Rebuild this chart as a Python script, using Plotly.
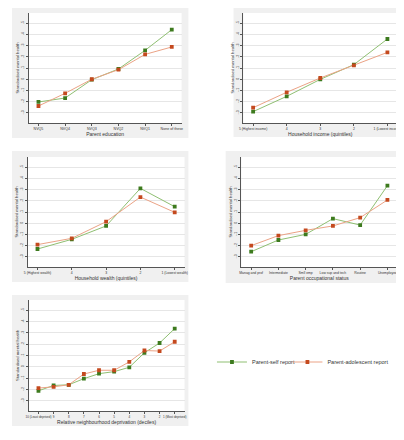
import plotly.graph_objects as go

W, H = 404, 440

edu_cats = ["NVQ5", "NVQ4", "NVQ3", "NVQ2", "NVQ1", "None of these"]
edu_self = [-0.202, -0.167, -0.004, 0.091, 0.257, 0.441]
edu_adol = [-0.238, -0.125, 0.000, 0.085, 0.221, 0.287]

inc_cats = ["5 (Highest income)", "4", "3", "2", "1 (Lowest income)"]
inc_self = [-0.288, -0.152, -0.001, 0.130, 0.358]
inc_adol = [-0.253, -0.116, 0.011, 0.124, 0.239]

wea_cats = ["5 (Highest wealth)", "4", "3", "2", "1 (Lowest wealth)"]
wea_self = [-0.229, -0.143, -0.024, 0.310, 0.147]
wea_adol = [-0.190, -0.134, 0.014, 0.233, 0.097]

occ_cats = ["Manag and prof", "Intermediate", "Smll emp", "Low sup and tech", "Routine", "Unemployed"]
occ_self = [-0.253, -0.149, -0.099, 0.041, -0.016, 0.334]
occ_adol = [-0.199, -0.110, -0.063, -0.024, 0.050, 0.207]

dep_cats = ["10 (Least deprived)", "9", "8", "7", "6", "5", "4", "3", "2", "1 (Most deprived)"]
dep_self = [-0.211, -0.164, -0.158, -0.104, -0.060, -0.042, -0.004, 0.124, 0.210, 0.337]
dep_adol = [-0.187, -0.176, -0.158, -0.063, -0.030, -0.030, 0.044, 0.144, 0.139, 0.221]

y_tickvals = [-0.3, -0.2, -0.1, 0.0, 0.1, 0.2, 0.3, 0.4, 0.5]
y_ticktext = ["-.3", "-.2", "-.1", "0", ".1", ".2", ".3", ".4", ".5"]

x_titles = ["Parent education", "Household income (quintiles)", "Household wealth (quintiles)",
            "Parent occupational status", "Relative neighbourhood deprivation (deciles)"]
panels = [(edu_cats, edu_self, edu_adol), (inc_cats, inc_self, inc_adol), (wea_cats, wea_self, wea_adol),
          (occ_cats, occ_self, occ_adol), (dep_cats, dep_self, dep_adol)]

# plot areas in pixels (x0, x1, y0, y1) and gray graph regions
plot_px = [(17, 173, 5, 115), (236, 393, 5, 115), (16, 176, 149, 259), (234, 393, 149, 259), (17, 176, 292, 403)]
gray_px = [(0, 180, 0, 130), (226, 398, 0, 129), (0, 180, 143, 274), (218, 398, 143, 275), (0, 180, 287, 418)]
tick_sizes = [3.6, 3.4, 3.4, 3.4, 3.0]

G_LINE, G_MARK = "#8fbf72", "#3d7a1e"
O_LINE, O_MARK = "#eba386", "#c4491e"

fig = go.Figure()
shapes = []
for i, ((cats, s, a), (x0, x1, y0, y1), (gx0, gx1, gy0, gy1)) in enumerate(zip(panels, plot_px, gray_px)):
    n = len(cats)
    idx = list(range(n))
    k = "" if i == 0 else str(i + 1)
    xa, ya = "x" + k, "y" + k
    fig.add_trace(go.Scatter(x=idx, y=s, mode="lines+markers", name="Parent-self report",
                             line=dict(color=G_LINE, width=1), marker=dict(color=G_MARK, size=3.8, symbol="square"),
                             xaxis=xa, yaxis=ya, showlegend=(i == 0), legend="legend"))
    fig.add_trace(go.Scatter(x=idx, y=a, mode="lines+markers", name="Parent-adolescent report",
                             line=dict(color=O_LINE, width=1), marker=dict(color=O_MARK, size=3.8, symbol="square"),
                             xaxis=xa, yaxis=ya, showlegend=(i == 0), legend="legend2"))
    spacing = (x1 - x0 - 20) / (n - 1)
    pad = 10 / spacing
    fig.layout["xaxis" + k] = dict(domain=[x0 / W, x1 / W], anchor=ya, range=[-pad, n - 1 + pad],
                                   tickvals=idx, ticktext=cats, tickangle=0,
                                   tickfont=dict(size=tick_sizes[i], color="#333"), ticks="outside", ticklen=2,
                                   tickcolor="#555", showgrid=False, zeroline=False,
                                   showline=True, linecolor="#555", linewidth=0.8,
                                   title=dict(text=x_titles[i], font=dict(size=5, color="#333"), standoff=1))
    fig.layout["yaxis" + k] = dict(domain=[1 - y1 / H, 1 - y0 / H], anchor=xa, range=[-0.389, 0.589],
                                   tickvals=y_tickvals, ticktext=y_ticktext, tickangle=-90,
                                   tickfont=dict(size=3.6, color="#333"), ticks="outside", ticklen=2,
                                   tickcolor="#555", showgrid=True, gridcolor="#e6e6e6", gridwidth=0.6,
                                   zeroline=False, showline=True, linecolor="#555", linewidth=0.8,
                                   title=dict(text="Standardised mental health", font=dict(size=4.2, color="#333"),
                                              standoff=1))
    shapes.append(dict(type="rect", xref="paper", yref="paper", x0=gx0 / W, x1=gx1 / W,
                       y0=1 - gy1 / H, y1=1 - gy0 / H, fillcolor="#f0f0f0", line=dict(width=0), layer="below"))
    shapes.append(dict(type="rect", xref="paper", yref="paper", x0=x0 / W, x1=x1 / W,
                       y0=1 - y1 / H, y1=1 - y0 / H, fillcolor="white", line=dict(width=0), layer="below"))

leg_common = dict(orientation="h", yanchor="middle", xanchor="left", y=1 - 354 / H,
                  font=dict(size=5.5, color="#333"), itemwidth=30, bgcolor="rgba(0,0,0,0)")
fig.update_layout(width=W, height=H, margin=dict(l=0, r=0, t=0, b=0),
                  paper_bgcolor="white", plot_bgcolor="rgba(0,0,0,0)", shapes=shapes,
                  font=dict(family="Liberation Sans, Arial, sans-serif"),
                  legend=dict(x=204 / W, **leg_common),
                  legend2=dict(x=281 / W, **leg_common))
fig.write_html("out.html")
